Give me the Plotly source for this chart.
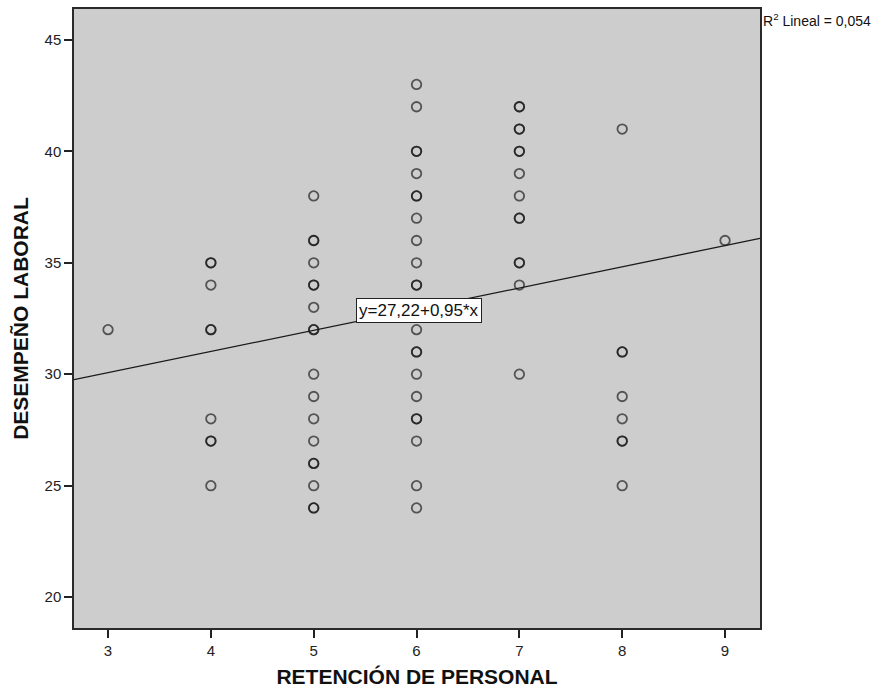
import plotly.graph_objects as go

# Retención de personal (x) vs. desempeño laboral (y); repeated pairs are listed twice
retencion = (
    [3]
    + [4] * 9
    + [5] * 18
    + [6] * 22
    + [7] * 14
    + [8] * 8
    + [9]
)
desempeno = (
    [32]
    + [35, 35, 34, 32, 32, 28, 27, 27, 25]
    + [38, 36, 36, 35, 34, 34, 33, 32, 32, 30, 29, 28, 27, 26, 26, 25, 24, 24]
    + [43, 42, 40, 40, 39, 38, 38, 37, 36, 35, 34, 34, 32, 31, 31, 30, 29, 28, 28, 27, 25, 24]
    + [42, 42, 41, 41, 40, 40, 39, 38, 37, 37, 35, 35, 34, 30]
    + [41, 31, 31, 29, 28, 27, 27, 25]
    + [36]
)

# Linear fit reported for the data
intercepto = 27.22
pendiente = 0.95
r2 = 0.054

x_ticks = [3, 4, 5, 6, 7, 8, 9]
y_ticks = [20, 25, 30, 35, 40, 45]
x_range = [2.669, 9.340]
y_range = [18.614, 46.386]

FONT = "Liberation Sans, Arial, sans-serif"

fig = go.Figure()

fig.add_trace(go.Scatter(
    x=retencion,
    y=desempeno,
    mode="markers",
    marker=dict(
        symbol="circle-open",
        size=9.5,
        color="rgba(20,20,20,0.66)",
        line=dict(width=1.8),
    ),
    hoverinfo="x+y",
    showlegend=False,
))

fit_x = list(x_range)
fit_y = [intercepto + pendiente * v for v in fit_x]
fig.add_trace(go.Scatter(
    x=fit_x,
    y=fit_y,
    mode="lines",
    line=dict(color="#1a1a1a", width=1.3),
    hoverinfo="skip",
    showlegend=False,
))

def fmt(v, nd):
    return f"{v:.{nd}f}".replace(".", ",")

fig.add_annotation(
    x=6.02, y=32.85, xref="x", yref="y",
    text=f"y={fmt(intercepto, 2)}+{fmt(pendiente, 2)}*x",
    showarrow=False,
    font=dict(family=FONT, size=17, color="#111"),
    bgcolor="white",
    bordercolor="#222",
    borderwidth=1,
    borderpad=2,
)

fig.add_annotation(
    x=1.0, y=1.0, xref="paper", yref="paper",
    xanchor="left", yanchor="top", xshift=1, yshift=0,
    text=f"R<sup>2</sup> Lineal = {fmt(r2, 3)}",
    showarrow=False,
    font=dict(family=FONT, size=14, color="#111"),
)

axis_common = dict(
    showgrid=False,
    zeroline=False,
    showline=True,
    linecolor="#2a2a2a",
    linewidth=1.5,
    mirror=True,
    ticks="outside",
    ticklen=8,
    tickwidth=1.5,
    tickcolor="#222",
    tickfont=dict(family=FONT, size=15, color="#222"),
)

fig.update_xaxes(
    range=x_range,
    tickvals=x_ticks,
    title=dict(text="<b>RETENCIÓN DE PERSONAL</b>",
               font=dict(family=FONT, size=21, color="#111"), standoff=12),
    **axis_common,
)
fig.update_yaxes(
    range=y_range,
    tickvals=y_ticks,
    title=dict(text="<b>DESEMPEÑO LABORAL</b>",
               font=dict(family=FONT, size=21, color="#111"), standoff=10),
    **axis_common,
)

fig.update_layout(
    width=881,
    height=694,
    margin=dict(l=74, r=121, t=7, b=66),
    plot_bgcolor="#cdcdcd",
    paper_bgcolor="white",
)

fig.write_html("out.html")
